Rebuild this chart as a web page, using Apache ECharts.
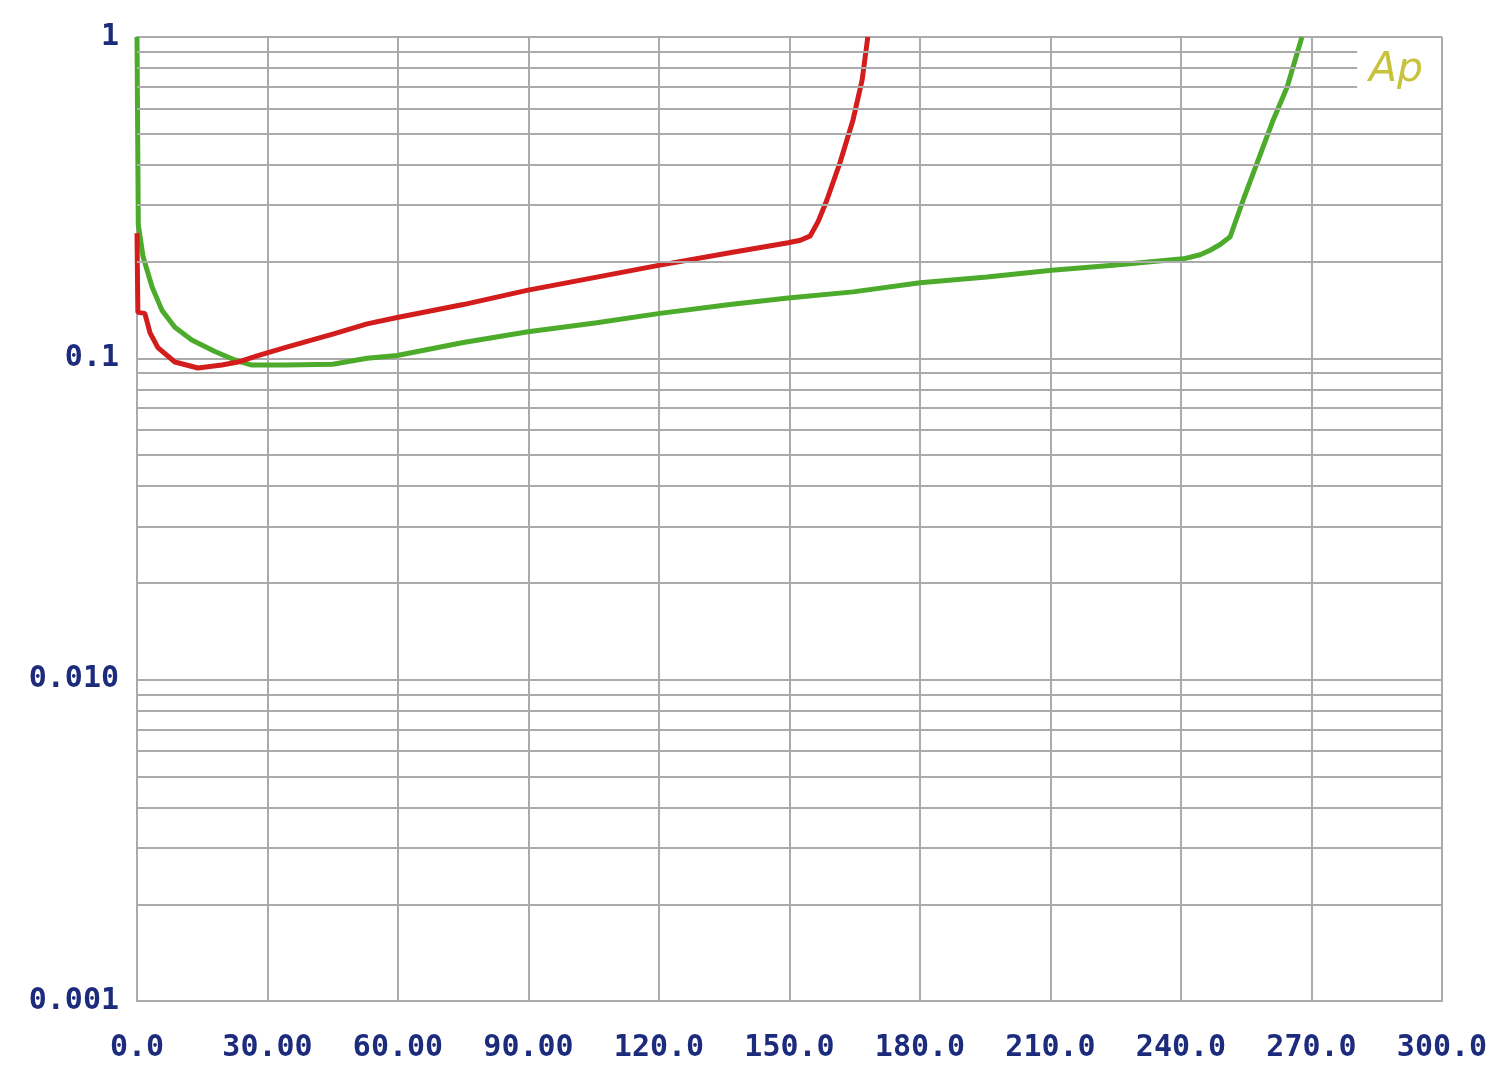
<!DOCTYPE html>
<html>
<head>
<meta charset="utf-8">
<script src="https://cdn.jsdelivr.net/npm/echarts@6/dist/echarts.min.js"></script>
<style>
html,body{margin:0;padding:0;background:#fff;}
#c{width:1500px;height:1072px;}
</style>
</head>
<body>
<div id="c"></div>
<script>
// ---- data ----
const xTickLabels = ['0.0','30.00','60.00','90.00','120.0','150.0','180.0','210.0','240.0','270.0','300.0'];
const yTickValues = [0.001, 0.01, 0.1, 1];
const yTickLabels = ['0.001', '0.010', '0.1', '1'];

const redX = [0, 0.2, 1.8, 3.0, 4.8, 8.7, 14.0, 19.5, 23.2, 27.8, 34.0, 45.0, 52.9, 59.8, 75.0, 89.9, 105.7, 120.2, 136.3, 149.7, 152.5, 154.7, 156.5, 158.6, 161.6, 164.6, 166.7, 168.0];
const redY = [0.245, 0.139, 0.138, 0.120, 0.108, 0.0974, 0.0933, 0.0953, 0.0974, 0.102, 0.108, 0.119, 0.128, 0.134, 0.147, 0.163, 0.179, 0.195, 0.213, 0.229, 0.233, 0.240, 0.265, 0.311, 0.406, 0.552, 0.735, 1.0];

const greenX = [0, 0.3, 1.4, 3.45, 5.75, 8.7, 12.6, 17.9, 22.5, 26.4, 34.0, 45.0, 52.9, 59.8, 75.0, 89.9, 105.7, 120.2, 136.3, 149.7, 164.6, 180.0, 195.4, 210.3, 224.4, 240.5, 244.4, 246.7, 249.0, 251.3, 254.3, 257.5, 261.2, 264.4, 267.8];
const greenY = [1.0, 0.26, 0.207, 0.167, 0.141, 0.125, 0.114, 0.105, 0.0988, 0.0953, 0.0953, 0.0958, 0.100, 0.102, 0.112, 0.121, 0.129, 0.138, 0.147, 0.154, 0.161, 0.172, 0.179, 0.188, 0.195, 0.204, 0.210, 0.217, 0.226, 0.239, 0.311, 0.406, 0.552, 0.699, 1.0];

const legendText = 'Ap';

// ---- chart ----
const gridColor = '#ababab';
const labelColor = '#1c2b7c';
const monoFont = '"DejaVu Sans Mono", "Liberation Mono", monospace';

function pairs(xs, ys) { return xs.map((x, i) => [x, ys[i]]); }

// minor log gridlines (2..9 in each decade)
const minorLines = [];
[0.001, 0.01, 0.1].forEach(d => {
  for (let k = 2; k <= 9; k++) {
    const v = +(k * d).toPrecision(3);
    const endX = (d === 0.1 && k >= 7) ? 280.5 : 300;
    minorLines.push([{ coord: [0, v] }, { coord: [endX, v] }]);
  }
});

const chart = echarts.init(document.getElementById('c'), null, { renderer: 'canvas' });
chart.setOption({
  animation: false,
  backgroundColor: '#ffffff',
  grid: { left: 137, right: 58, top: 37, bottom: 71, containLabel: false },
  xAxis: {
    type: 'value', min: 0, max: 300, interval: 30,
    axisLine: { show: true, lineStyle: { color: gridColor, width: 2 } },
    axisTick: { show: false },
    splitLine: { show: true, lineStyle: { color: gridColor, width: 2 } },
    axisLabel: {
      margin: 32, color: labelColor, fontFamily: monoFont, fontWeight: 'bold', fontSize: 30,
      formatter: (v) => xTickLabels[Math.round(v / 30)] || ''
    }
  },
  yAxis: {
    type: 'log', logBase: 10, min: 0.001, max: 1,
    axisLine: { show: true, lineStyle: { color: gridColor, width: 2 } },
    axisTick: { show: false },
    splitLine: { show: true, lineStyle: { color: gridColor, width: 2 } },
    axisLabel: {
      margin: 18, color: labelColor, fontFamily: monoFont, fontWeight: 'bold', fontSize: 30,
      formatter: (v) => {
        for (let i = 0; i < yTickValues.length; i++) {
          if (Math.abs(Math.log10(v) - Math.log10(yTickValues[i])) < 1e-6) return yTickLabels[i];
        }
        return '';
      }
    }
  },
  graphic: [{
    type: 'text', left: 1369, top: 50, z: 10,
    style: { text: legendText, fill: '#c6c23a', font: 'italic 300 41px "DejaVu Sans", sans-serif' }
  }],
  series: [
    {
      type: 'line', data: [], z: 1, silent: true,
      markLine: {
        silent: true, symbol: 'none', label: { show: false },
        lineStyle: { color: gridColor, width: 2, type: 'solid' },
        data: minorLines
      }
    },
    {
      name: 'green', type: 'line', z: 3, data: pairs(greenX, greenY),
      showSymbol: false, smooth: false,
      lineStyle: { color: '#4dab2c', width: 5 }
    },
    {
      name: 'red', type: 'line', z: 4, data: pairs(redX, redY),
      showSymbol: false, smooth: false,
      lineStyle: { color: '#d31d1d', width: 5 }
    }
  ]
});
</script>
</body>
</html>
